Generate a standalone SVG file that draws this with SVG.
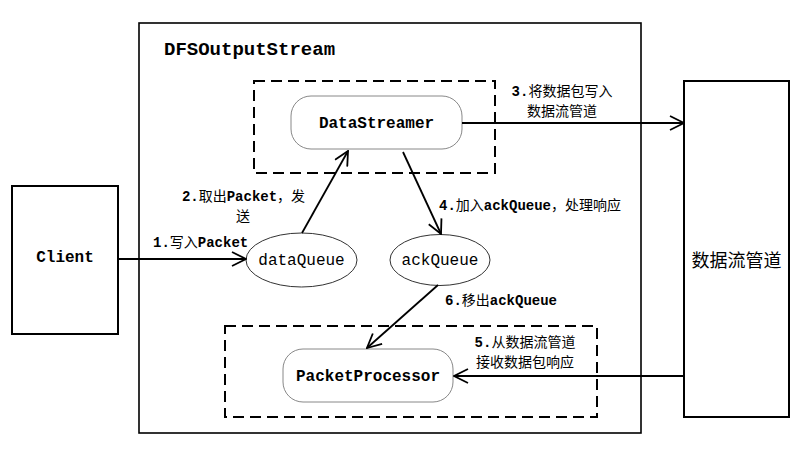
<svg xmlns="http://www.w3.org/2000/svg" width="809" height="451" viewBox="0 0 809 451">
<style>
.box{fill:none;stroke:#000;stroke-width:2}
.outer{fill:none;stroke:#000;stroke-width:1.6}
.dash{fill:none;stroke:#000;stroke-width:2;stroke-dasharray:11 6}
.rr{fill:#fff;stroke:#888;stroke-width:1}
.ell{fill:#fff;stroke:#333;stroke-width:1}
.mono{font-family:"Liberation Mono","DejaVu Sans Mono","Noto Sans CJK SC",monospace;fill:#000}
.b{font-weight:bold}
.lbl{font-family:"Liberation Mono","DejaVu Sans Mono","Noto Sans CJK SC",monospace;font-size:14px;fill:#000}
.cjk{font-family:"Noto Sans CJK SC",sans-serif;font-weight:normal}
.conn{stroke:#000;stroke-width:1.8;fill:none}
</style>
<defs>
<marker id="arr" viewBox="0 0 16 16" refX="15" refY="8" markerWidth="16" markerHeight="16" markerUnits="userSpaceOnUse" orient="auto">
<path d="M1,1 L15,8 L1,15" fill="none" stroke="#000" stroke-width="1.8"/>
</marker>
</defs>

<g id="dfsoutputstream">
<rect class="outer" x="139" y="23" width="502" height="410"/>
<text class="mono b" x="164" y="55" font-size="19">DFSOutputStream</text>
</g>

<g id="datastreamer-group">
<rect class="dash" x="254" y="81" width="241" height="92"/>
</g>
<g id="packetprocessor-group">
<rect class="dash" x="225" y="326" width="372" height="91"/>
</g>

<g id="client">
<rect class="box" x="12" y="186" width="106" height="148"/>
<text class="mono b" x="65" y="262" font-size="16" text-anchor="middle">Client</text>
</g>

<g id="pipeline">
<rect class="box" x="684" y="81" width="105" height="336"/>
<text x="736.5" y="267" font-size="18" text-anchor="middle" font-family="Noto Sans CJK SC,sans-serif">数据流管道</text>
</g>

<g id="datastreamer">
<rect class="rr" x="291" y="96" width="171" height="53" rx="20" ry="20"/>
<text class="mono b" x="376.5" y="128" font-size="16" text-anchor="middle">DataStreamer</text>
</g>

<g id="dataqueue">
<ellipse class="ell" cx="301.5" cy="260" rx="55.5" ry="27"/>
<text class="mono" x="301.5" y="265" font-size="16" text-anchor="middle">dataQueue</text>
</g>

<g id="ackqueue">
<ellipse class="ell" cx="440" cy="260" rx="50" ry="25.5"/>
<text class="mono" x="440" y="265" font-size="16" text-anchor="middle">ackQueue</text>
</g>

<g id="packetprocessor">
<rect class="rr" x="283" y="349" width="170" height="53" rx="20" ry="20"/>
<text class="mono b" x="368" y="381" font-size="16" text-anchor="middle">PacketProcessor</text>
</g>

<g id="connectors">
<line class="conn" x1="118" y1="259" x2="246" y2="259" marker-end="url(#arr)"/>
<line class="conn" x1="302" y1="233" x2="348" y2="151" marker-end="url(#arr)"/>
<line class="conn" x1="462" y1="123" x2="684" y2="123" marker-end="url(#arr)"/>
<line class="conn" x1="403" y1="152" x2="441" y2="234" marker-end="url(#arr)"/>
<line class="conn" x1="684" y1="376" x2="454" y2="376" marker-end="url(#arr)"/>
<line class="conn" x1="438" y1="285" x2="367" y2="348" marker-end="url(#arr)"/>

<text class="lbl" x="153" y="247"><tspan class="b">1.</tspan><tspan class="cjk">写入</tspan><tspan class="b">Packet</tspan></text>
<text class="lbl" x="243.5" y="201" text-anchor="middle"><tspan class="b">2.</tspan><tspan class="cjk">取出</tspan><tspan class="b">Packet</tspan><tspan class="cjk">，发</tspan></text>
<text class="lbl cjk" x="243" y="221" text-anchor="middle">送</text>
<text class="lbl" x="562" y="96" text-anchor="middle"><tspan class="b">3.</tspan><tspan class="cjk">将数据包写入</tspan></text>
<text class="lbl cjk" x="562" y="116" text-anchor="middle">数据流管道</text>
<text class="lbl" x="439" y="210"><tspan class="b">4.</tspan><tspan class="cjk">加入</tspan><tspan class="b">ackQueue</tspan><tspan class="cjk">，处理响应</tspan></text>
<text class="lbl" x="525" y="347" text-anchor="middle"><tspan class="b">5.</tspan><tspan class="cjk">从数据流管道</tspan></text>
<text class="lbl cjk" x="525" y="367" text-anchor="middle">接收数据包响应</text>
<text class="lbl" x="445" y="305"><tspan class="b">6.</tspan><tspan class="cjk">移出</tspan><tspan class="b">ackQueue</tspan></text>
</g>
</svg>
